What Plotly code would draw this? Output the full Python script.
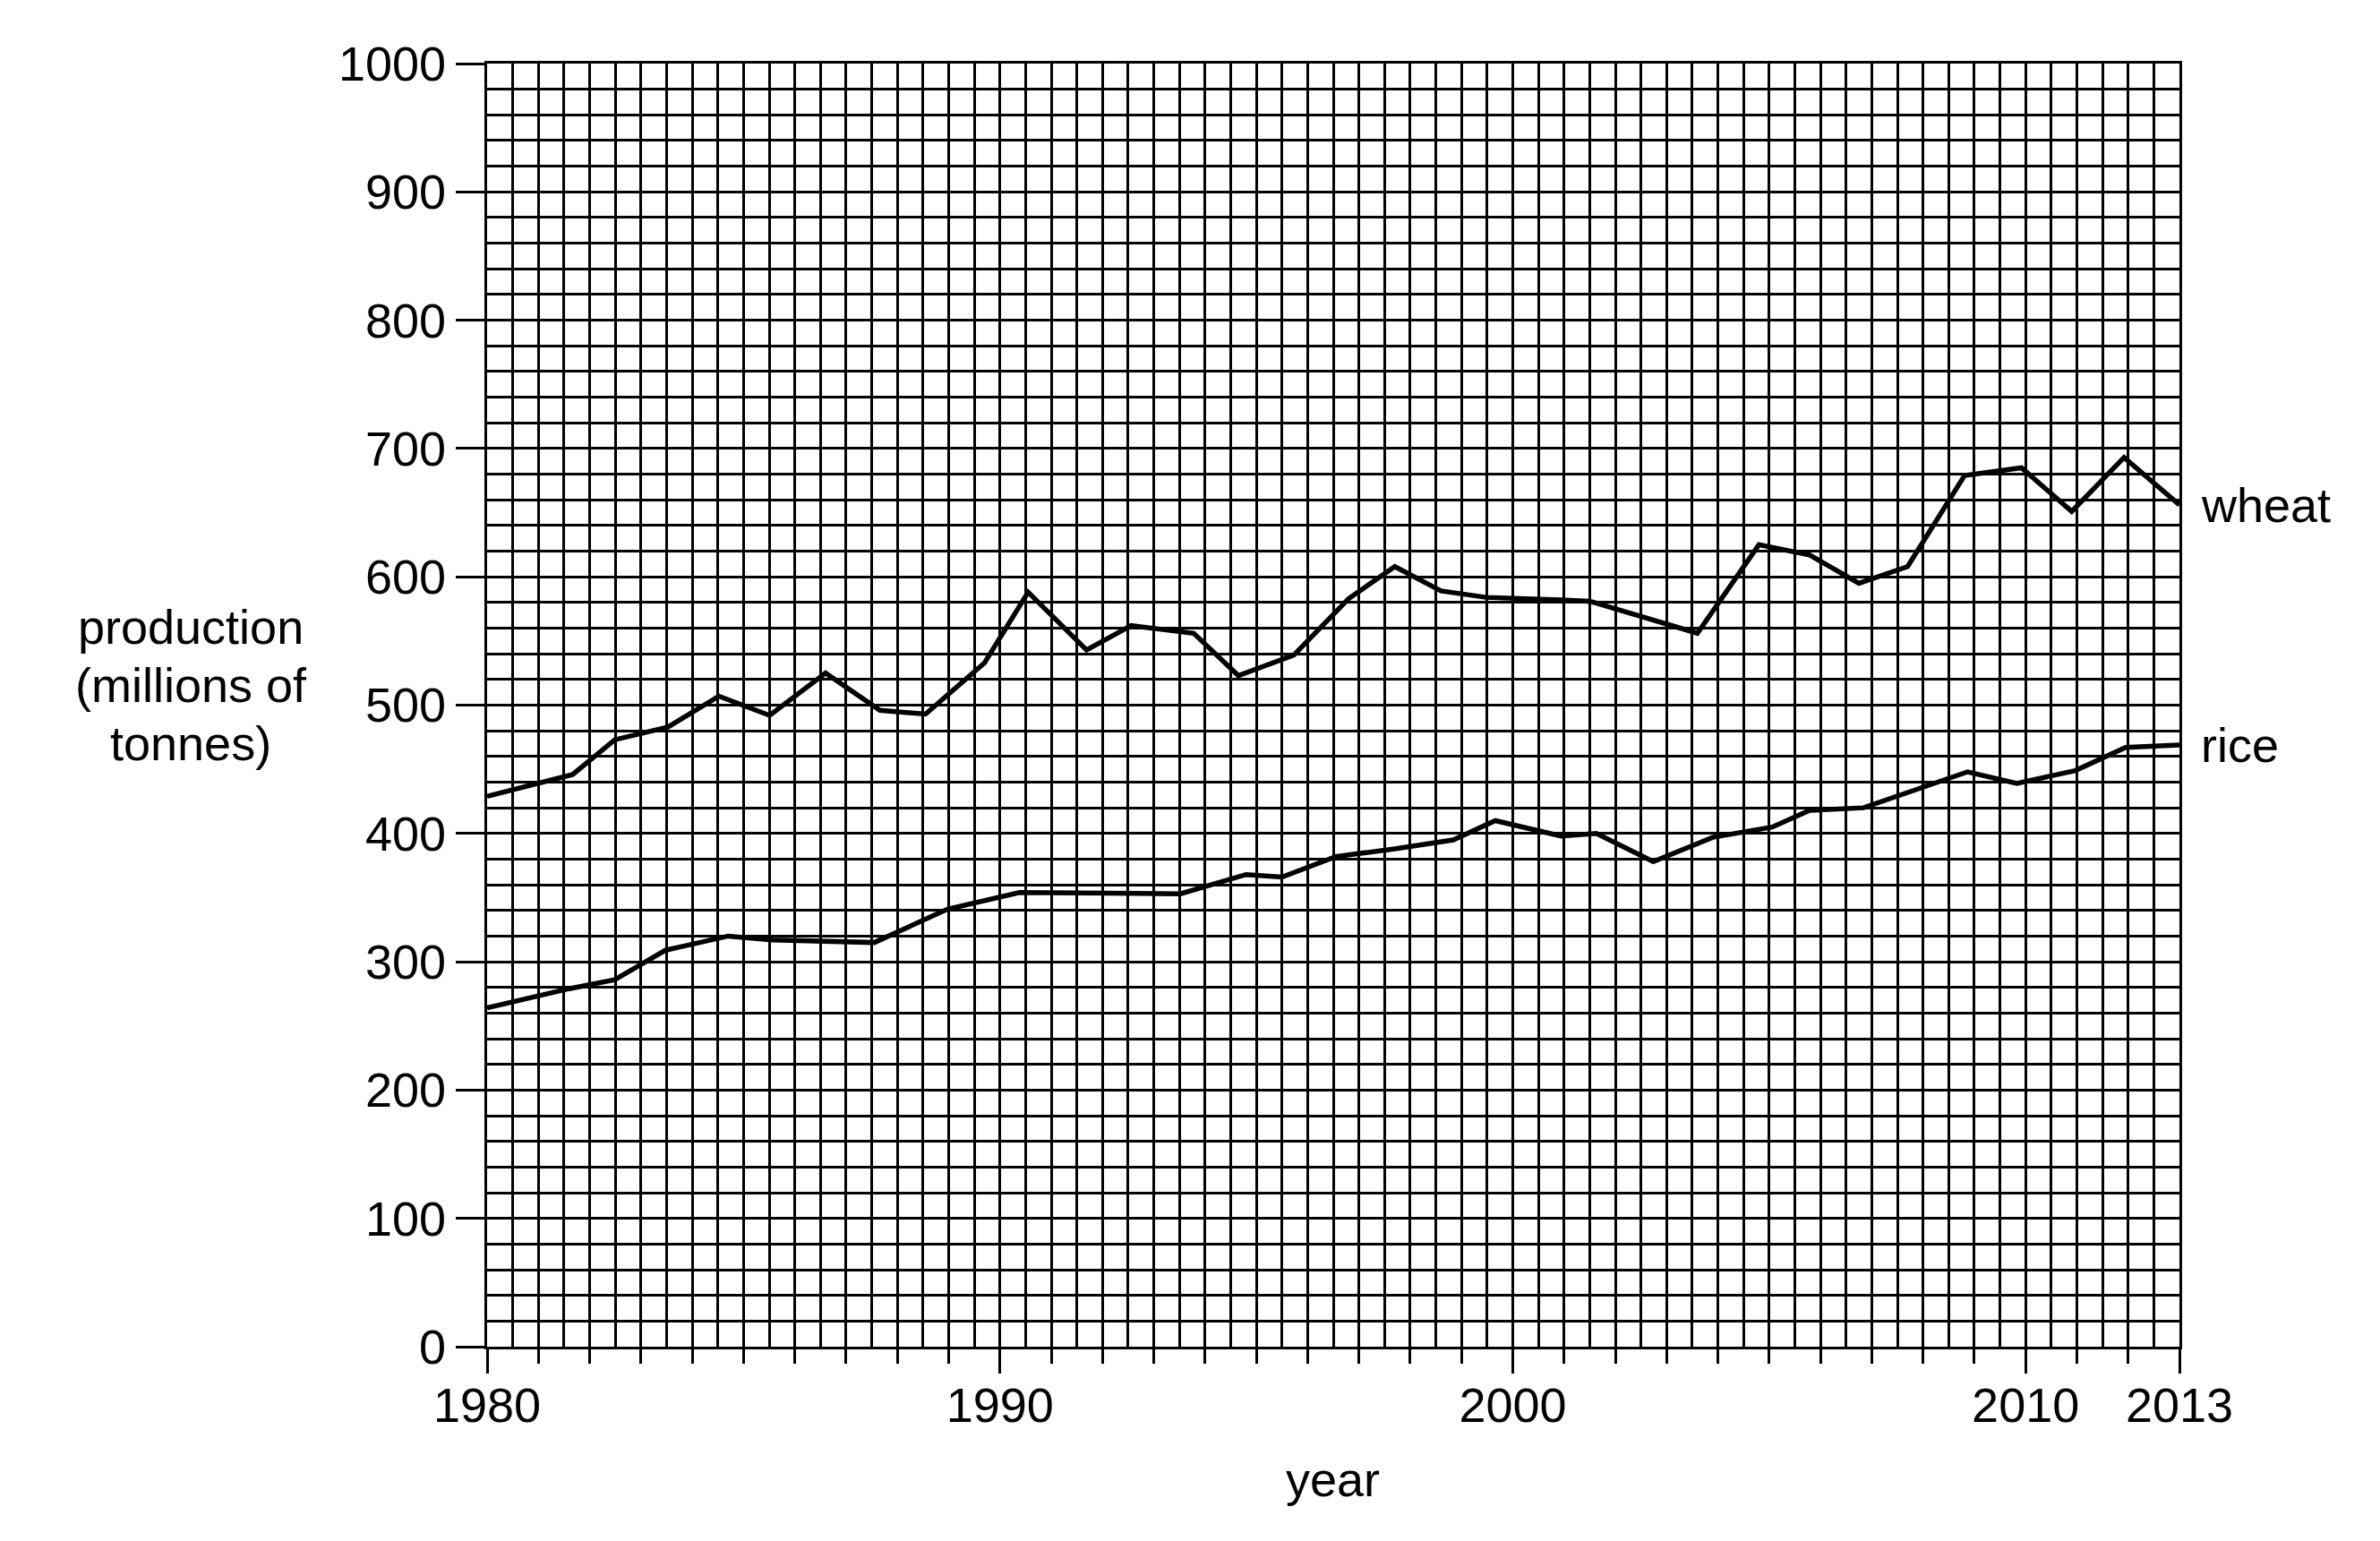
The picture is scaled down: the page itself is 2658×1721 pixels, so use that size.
import plotly.graph_objects as go

# ---- data ----
wheat_years = [1980.0, 1981.67, 1982.49, 1983.53, 1984.52, 1985.51, 1986.6, 1987.66,
               1988.55, 1989.7, 1990.55, 1991.69, 1992.56, 1993.78, 1994.65, 1995.73,
               1996.8, 1997.7, 1998.6, 1999.48, 2000.94, 2001.5, 2003.6, 2004.8,
               2005.79, 2006.75, 2007.7, 2008.81, 2009.92, 2010.9, 2011.92, 2013.0]
wheat = [429, 446, 473, 483, 507, 492, 525, 496, 493, 533, 588, 543, 562, 556, 523, 539,
         583, 608, 589, 584, 582, 581, 556, 625, 617, 595, 608, 679, 685, 651, 693, 656]

rice_years = [1980.0, 1981.6, 1982.49, 1983.48, 1984.7, 1985.57, 1987.55, 1988.98,
              1990.38, 1993.52, 1994.8, 1995.5, 1996.55, 1997.7, 1998.84, 1999.66,
              2000.94, 2001.63, 2002.74, 2003.9, 2005.06, 2005.79, 2006.84, 2008.87,
              2009.83, 2010.97, 2011.95, 2013.0]
rice = [264, 279, 286, 309, 320, 317, 315, 341, 354, 353, 368, 366, 382, 388, 395, 410,
        398, 400, 378, 397, 405, 418, 420, 448, 439, 449, 467, 469]

x_tick_years = [1980, 1990, 2000, 2010, 2013]
x_tick_labels = ["1980", "1990", "2000", "2010", "2013"]
y_tick_values = [0, 100, 200, 300, 400, 500, 600, 700, 800, 900, 1000]
y_tick_labels = [str(v) for v in y_tick_values]
y_title_lines = ["production", "(millions of", "tonnes)"]
x_title = "year"
series_names = ["wheat", "rice"]

# every year gets a short tick; only the listed years carry a label
all_years = list(range(x_tick_years[0], x_tick_years[-1] + 1))
all_year_text = [x_tick_labels[x_tick_years.index(yr)] if yr in x_tick_years else ""
                 for yr in all_years]

# ---- figure ----
W, H = 2658, 1721
OFF = 8  # page body margin
L, T = 544 - OFF, 71 - OFF
R = W - (2434 - OFF)
B = H - (1504 - OFF)
PW, PH = W - L - R, H - T - B
FONT = "Liberation Sans, Arial, Helvetica, sans-serif"
FS = 54
LW = 3.3


def px_to_paper_x(px):
    return (px - OFF - L) / PW


def px_to_paper_y(py):
    return (H - B - (py - OFF)) / PH


fig = go.Figure()
fig.add_trace(go.Scatter(x=wheat_years, y=wheat, mode="lines", name=series_names[0],
                         line=dict(color="black", width=5.5), xaxis="x", yaxis="y",
                         hoverinfo="x+y"))
fig.add_trace(go.Scatter(x=rice_years, y=rice, mode="lines", name=series_names[1],
                         line=dict(color="black", width=5.5), xaxis="x2", yaxis="y",
                         hoverinfo="x+y"))

annotations = []
for i, line in enumerate(y_title_lines):
    annotations.append(dict(text=line, xref="paper", yref="paper",
                            x=px_to_paper_x(213), y=px_to_paper_y(700 + i * 65),
                            xanchor="center", yanchor="middle", showarrow=False,
                            font=dict(family=FONT, size=FS, color="black")))
annotations.append(dict(text=x_title, xref="paper", yref="paper",
                        x=px_to_paper_x(1488), y=px_to_paper_y(1652),
                        xanchor="center", yanchor="middle", showarrow=False,
                        font=dict(family=FONT, size=FS, color="black")))
annotations.append(dict(text=series_names[0], xref="x", yref="y",
                        x=wheat_years[-1], y=wheat[-1], xanchor="left", yanchor="middle",
                        xshift=22, showarrow=False,
                        font=dict(family=FONT, size=FS, color="black")))
annotations.append(dict(text=series_names[1], xref="x", yref="y",
                        x=rice_years[-1], y=rice[-1], xanchor="left", yanchor="middle",
                        xshift=22, showarrow=False,
                        font=dict(family=FONT, size=FS, color="black")))

fig.update_layout(
    width=W, height=H,
    margin=dict(l=L, r=R, t=T, b=B),
    paper_bgcolor="white", plot_bgcolor="white",
    showlegend=False,
    font=dict(family=FONT, size=FS, color="black"),
    xaxis=dict(
        range=[1980, 2013], tickmode="array", tickvals=all_years, ticktext=all_year_text,
        ticks="outside", ticklen=16, tickwidth=LW, tickcolor="black",
        showgrid=True, gridcolor="black", gridwidth=LW,
        showline=True, linecolor="black", linewidth=LW, mirror=True,
        zeroline=False, fixedrange=True,
        tickfont=dict(family=FONT, size=FS, color="black"),
    ),
    xaxis2=dict(
        range=[1980, 2013], overlaying="x", side="bottom", anchor="y",
        tickmode="array", tickvals=x_tick_years,
        ticks="outside", ticklen=29, tickwidth=LW, tickcolor="black",
        showticklabels=False, showgrid=False,
        minor=dict(tickmode="linear", tick0=1980, dtick=0.5, ticks="", showgrid=True,
                   gridcolor="black", gridwidth=LW),
        showline=False, zeroline=False, fixedrange=True,
    ),
    yaxis=dict(
        range=[0, 1000], tickmode="array", tickvals=y_tick_values, ticktext=y_tick_labels,
        ticks="outside", ticklen=32, tickwidth=LW, tickcolor="black",
        showgrid=True, gridcolor="black", gridwidth=LW,
        minor=dict(dtick=20, tick0=0, ticks="", showgrid=True, gridcolor="black",
                   gridwidth=LW),
        showline=True, linecolor="black", linewidth=LW, mirror=True,
        zeroline=False, fixedrange=True,
        tickfont=dict(family=FONT, size=FS, color="black"),
    ),
    annotations=annotations,
)

fig.write_html("out.html")
